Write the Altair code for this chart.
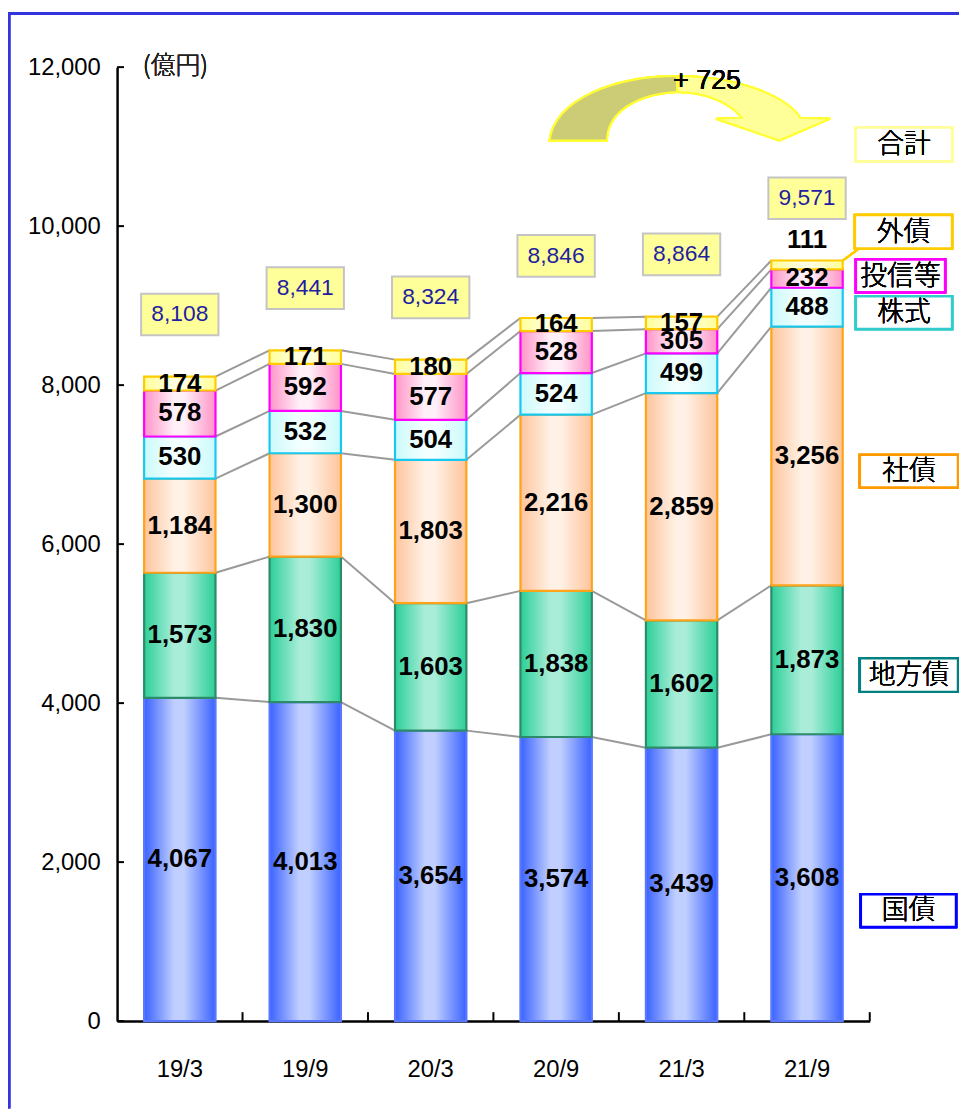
import altair as alt
import pandas as pd

# ---------------- data ----------------
periods = ["19/3", "19/9", "20/3", "20/9", "21/3", "21/9"]
series = ["国債", "地方債", "社債", "株式", "投信等", "外債"]
kokusai = [4067, 4013, 3654, 3574, 3439, 3608]
chihousai = [1573, 1830, 1603, 1838, 1602, 1873]
shasai = [1184, 1300, 1803, 2216, 2859, 3256]
kabushiki = [530, 532, 504, 524, 499, 488]
toushin = [578, 592, 577, 528, 305, 232]
gaisai = [174, 171, 180, 164, 157, 111]
totals = [8108, 8441, 8324, 8846, 8864, 9571]
y_ticks = [0, 2000, 4000, 6000, 8000, 10000, 12000]
unit_label = "(億円)"
change_label = "+ 725"
total_legend = "合計"

# ---------------- styles ----------------
SANS = "Liberation Sans, Arial, sans-serif"
CJK = "Noto Sans CJK JP, sans-serif"

style = {
    "国債": dict(edge="#3a62ff", mid="#c0cfff", stroke="#5a78ff", box="#0000ff"),
    "地方債": dict(edge="#2ccf98", mid="#a9edd9", stroke="#2e8b6a", box="#008080"),
    "社債": dict(edge="#fdc49c", mid="#fff1e5", stroke="#ffa31a", box="#ff9900"),
    "株式": dict(edge="#ccfafa", mid="#f3ffff", stroke="#19c8f0", box="#33cccc"),
    "投信等": dict(edge="#ff94c8", mid="#fff0f8", stroke="#ff00ff", box="#ff00ff"),
    "外債": dict(edge="#ffff99", mid="#ffffe2", stroke="#ffcc00", box="#ffcc00"),
}

# ---------------- tables ----------------
values = [kokusai, chihousai, shasai, kabushiki, toushin, gaisai]
rows = []
tops = []
for i, p in enumerate(periods):
    base = 0
    t = {}
    for s, vals in zip(series, values):
        v = vals[i]
        rows.append(dict(period=p, series=s, value=v, y0=base, y1=base + v, label=f"{v:,}"))
        base += v
        t[s] = base
    tops.append(t)
seg = pd.DataFrame(rows)

conn_rows = []
for s in series:
    for i in range(len(periods) - 1):
        conn_rows.append(dict(series=s, period=periods[i], nxt=periods[i + 1],
                              ya=tops[i][s], yb=tops[i + 1][s]))
conn = pd.DataFrame(conn_rows)

tot = pd.DataFrame(dict(period=periods, total=totals, label=[f"{v:,}" for v in totals]))
ticks_df = pd.DataFrame(dict(v=y_ticks))
per_df = pd.DataFrame(dict(period=periods))

# ---------------- scales / axes ----------------
PAD_IN = 0.431
xscale = alt.Scale(domain=periods, paddingInner=PAD_IN, paddingOuter=PAD_IN / 2)
yscale = alt.Scale(domain=[0, 12000], nice=False, zero=True)
xaxis = alt.Axis(labelFont=SANS, labelFontSize=24, labelColor="black", labelPadding=37,
                 ticks=False, domainColor="black", domainWidth=2.5, labelAngle=0,
                 grid=False, title=None)
yaxis = alt.Axis(values=y_ticks, labelExpr="format(datum.value, ',')", labelFont=SANS,
                 labelFontSize=24, labelColor="black", labelPadding=17, ticks=False,
                 domainColor="black", domainWidth=2.5, grid=False, title=None)

X = alt.X("period:N", scale=xscale, sort=periods, axis=xaxis)

W, H = 759, 962
STEP = W / len(periods)

# frame
frame_top = alt.Chart(per_df).mark_rule(color="#3535dd", strokeWidth=2.5).encode(
    x=alt.value(-110), x2=alt.value(860), y=alt.value(-54))
frame_left = alt.Chart(per_df).mark_rule(color="#3535dd", strokeWidth=2.5).encode(
    x=alt.value(-109), y=alt.value(-55), y2=alt.value(1050))

# connectors
connectors = alt.Chart(conn).mark_rule(color="#9a9a9a", strokeWidth=2).encode(
    x=alt.X("period:N", scale=xscale, sort=periods, axis=xaxis, bandPosition=1),
    x2=alt.X2("nxt:N", bandPosition=0),
    y=alt.Y("ya:Q", scale=yscale, axis=yaxis),
    y2="yb:Q",
)

def grad(edge, mid):
    return {"gradient": "linear", "x1": 0, "x2": 1, "y1": 0, "y2": 0,
            "stops": [{"offset": 0, "color": edge}, {"offset": 0.42, "color": mid},
                      {"offset": 0.56, "color": mid}, {"offset": 1, "color": edge}]}

bar_layers = []
for s in series:
    st = style[s]
    bar_layers.append(
        alt.Chart(seg).transform_filter(alt.datum.series == s).mark_bar(
            fill=grad(st["edge"], st["mid"]), stroke=st["stroke"], strokeWidth=2.2
        ).encode(x=X, y=alt.Y("y0:Q", scale=yscale, axis=yaxis), y2="y1:Q")
    )

bar_labels = alt.Chart(seg).transform_calculate(
    ly="datum.value < 150 && datum.series == '外債' && datum.period == '21/9' ? datum.y1 + 260 : (datum.y0 + datum.y1) / 2"
).mark_text(font=SANS, fontSize=26, fontWeight="bold", color="black", baseline="middle").encode(
    x=X, y=alt.Y("ly:Q", scale=yscale, axis=yaxis), text="label:N")

# totals
tot_base = alt.Chart(tot).transform_calculate(
    c="datum.total + 780", lo="datum.total + 780 - 262", hi="datum.total + 780 + 262")
tot_boxes = tot_base.mark_bar(width=78, fill="#ffff99", stroke="#c4c4c4", strokeWidth=2).encode(
    x=X, y=alt.Y("lo:Q", scale=yscale, axis=yaxis), y2="hi:Q")
tot_text = tot_base.mark_text(font=SANS, fontSize=23, color="#1f1fa0", baseline="middle").encode(
    x=X, y=alt.Y("c:Q", scale=yscale, axis=yaxis), text="label:N")

# inward ticks
y_tick_marks = alt.Chart(ticks_df).mark_rule(color="black", strokeWidth=2).encode(
    y=alt.Y("v:Q", scale=yscale, axis=yaxis), x=alt.value(0), x2=alt.value(7))
x_tick_marks = alt.Chart(per_df).mark_rule(color="black", strokeWidth=2,
                                           xOffset=STEP * PAD_IN / 2).encode(
    x=alt.X("period:N", scale=xscale, sort=periods, axis=xaxis, bandPosition=1),
    y=alt.value(H - 9), y2=alt.value(H))

unit_text = alt.Chart(per_df).mark_text(font=CJK, fontSize=25, fontWeight=300, color="#222222",
                                        align="left", baseline="middle").encode(
    x=alt.value(26), y=alt.value(-1), text=alt.value(unit_label))

# arrow
olive_path = "M 436 74 C 442 32 502 9 565 9 L 565 25 C 522 27 494 47 494 74 Z"
yellow_path = ("M 565 9 C 622 9 672 27 689 51 L 719 52 L 668 74 L 604 52 L 630 51 "
               "C 617 35 592 25 565 25 Z")
arrow_olive = alt.Chart(per_df).mark_point(shape=olive_path, size=4, filled=True, fill="#cccc77",
                                           stroke="#ffff33", strokeWidth=2, opacity=1).encode(
    x=alt.value(0), y=alt.value(0))
arrow_yellow = alt.Chart(per_df).mark_point(shape=yellow_path, size=4, filled=True, fill="#ffff99",
                                            stroke="#ffff33", strokeWidth=2, opacity=1).encode(
    x=alt.value(0), y=alt.value(0))
change_text = alt.Chart(per_df).mark_text(font=SANS, fontSize=27, fontWeight="normal",
                                          color="black", baseline="middle").encode(
    x=alt.value(595), y=alt.value(14), text=alt.value(change_label))

leader = alt.Chart(per_df).mark_rule(color="#ffcc00", strokeWidth=2).encode(
    x=alt.value(732), y=alt.value(195), x2=alt.value(748), y2=alt.value(183))

# legend-like labels (x1, x2, y1, y2 in plot pixels)
legend_boxes = [
    (total_legend, "#ffff99", 745, 842, 61, 95),
    ("外債", style["外債"]["box"], 744, 842, 149, 183),
    ("投信等", style["投信等"]["box"], 745, 835, 194, 227),
    ("株式", style["株式"]["box"], 745, 842, 231, 264),
    ("社債", style["社債"]["box"], 749, 848, 391, 424),
    ("地方債", style["地方債"]["box"], 749, 848, 596, 630),
    ("国債", style["国債"]["box"], 750, 846, 834, 867),
]
legend_layers = []
for name, col, x1, x2, y1, y2 in legend_boxes:
    legend_layers.append(
        alt.Chart(per_df).mark_rect(fill="white", stroke=col, strokeWidth=2.5).encode(
            x=alt.value(x1), x2=alt.value(x2), y=alt.value(y1), y2=alt.value(y2)))
    legend_layers.append(
        alt.Chart(per_df).mark_text(font=CJK, fontSize=27, fontWeight=300, color="black",
                                    baseline="middle").encode(
            x=alt.value((x1 + x2) / 2), y=alt.value((y1 + y2) / 2 + 1), text=alt.value(name)))

chart = alt.layer(
    frame_top, frame_left, connectors, *bar_layers, bar_labels, tot_boxes, tot_text,
    y_tick_marks, x_tick_marks, unit_text, arrow_olive, arrow_yellow, change_text, leader,
    *legend_layers,
).properties(
    width=W, height=H,
    autosize=alt.AutoSizeParams(type="none"),
    padding={"left": 110, "top": 55, "right": 90, "bottom": 84},
).configure_view(stroke=None)

chart.save("out.html", embed_options={"renderer": "svg", "actions": False})
